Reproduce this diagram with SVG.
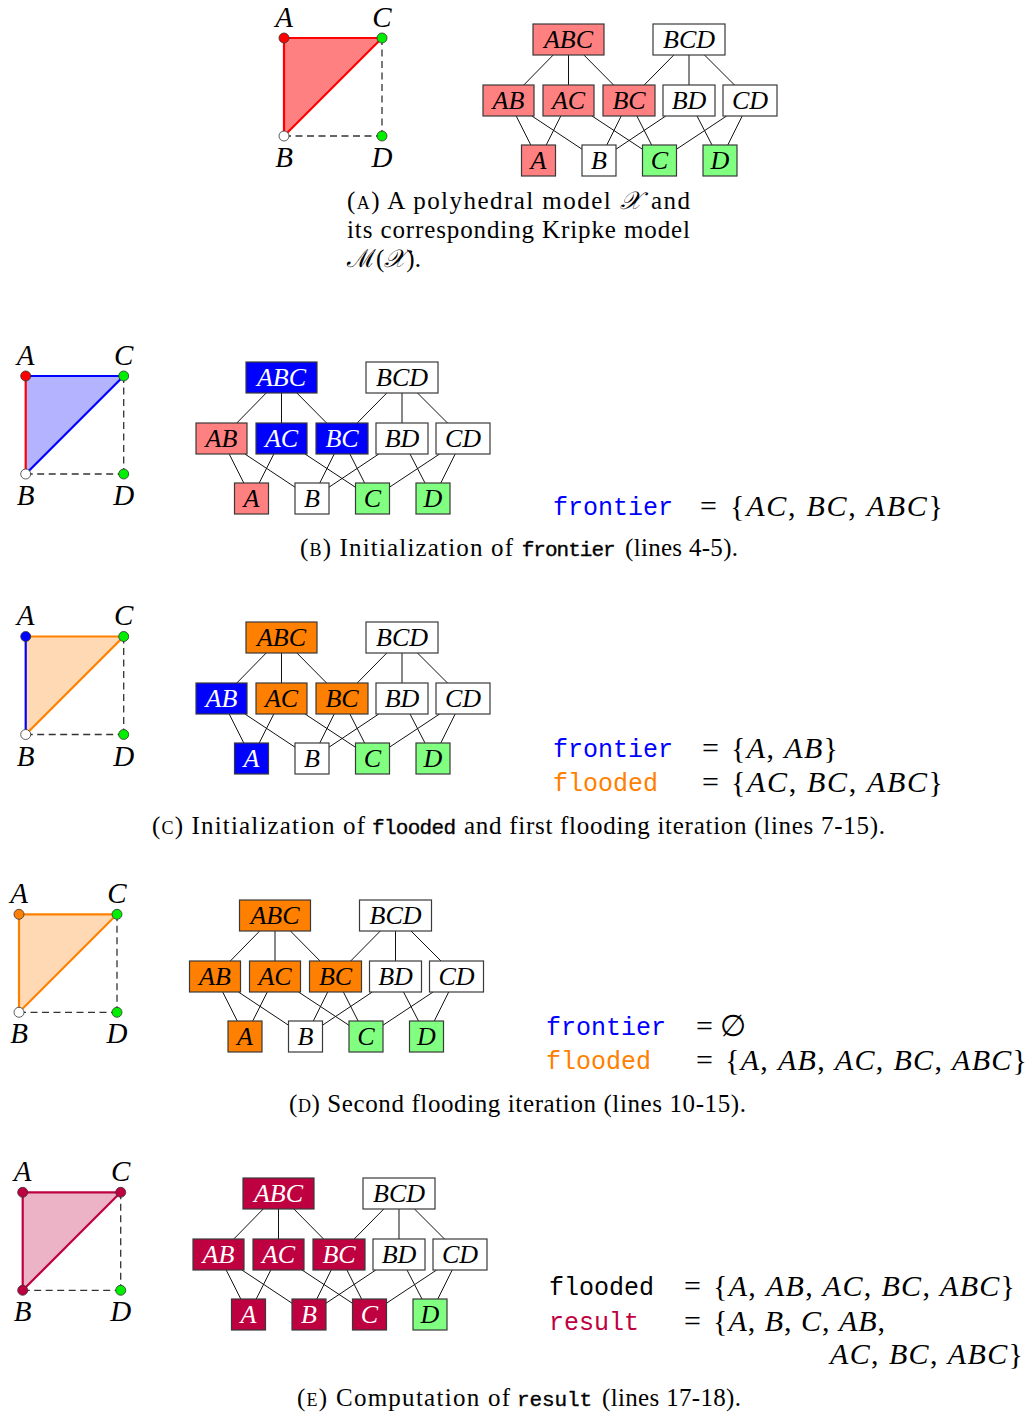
<svg xmlns="http://www.w3.org/2000/svg" width="1031" height="1414" viewBox="0 0 1031 1414">
<style>
.bx{stroke:#3a3a3a;stroke-width:1.2}
.w{fill:#fff}.r{fill:#ff8080}.g{fill:#80ff80}.b{fill:#0000ff}.o{fill:#ff8000}.p{fill:#bf0040}
.kl{font-family:"Liberation Serif",serif;font-style:italic;font-size:26px;text-anchor:middle;fill:#000}
.kw{fill:#fff}
.e line{stroke:#111;stroke-width:1}
.tl{font-family:"Liberation Serif",serif;font-style:italic;font-size:29px;text-anchor:middle;fill:#000}
.dash{stroke:#333;stroke-width:1.3;stroke-dasharray:7 4.5;fill:none}
.dot{stroke:#333;stroke-width:0.8}
.cap{font-family:"Liberation Serif",serif;font-size:25px;fill:#000}
.capm{font-family:"Liberation Mono",monospace;font-size:21px;fill:#000;stroke:#000;stroke-width:0.35}
.tt{font-family:"Liberation Mono",monospace;font-size:25px}
.mr{font-family:"Liberation Serif",serif;font-size:30px;fill:#000}
.mi{font-style:italic}
.sc{font-size:18px}
</style>

<!-- ===== Triangles ===== -->
<g id="tri-a">
  <polygon points="284,38 382,38 284,136" fill="#ff8080"/>
  <line x1="284" y1="38" x2="284" y2="136" stroke="#ff0000" stroke-width="2.2"/>
  <line x1="284" y1="38" x2="382" y2="38" stroke="#ff0000" stroke-width="2.2"/>
  <line x1="284" y1="136" x2="382" y2="38" stroke="#ff0000" stroke-width="2.2"/>
  <path class="dash" d="M382,38 V136 M284,136 H382"/>
  <g id="tri-a-A"><circle class="dot" cx="284" cy="38" r="5" fill="#ff0000"/><text class="tl" x="284" y="26.5">A</text></g>
  <g id="tri-a-C"><circle class="dot" cx="382" cy="38" r="5" fill="#00ee00"/><text class="tl" x="382" y="26.5">C</text></g>
  <g id="tri-a-B"><circle class="dot" cx="284" cy="136" r="5" fill="#fff"/><text class="tl" x="284" y="167">B</text></g>
  <g id="tri-a-D"><circle class="dot" cx="382" cy="136" r="5" fill="#00ee00"/><text class="tl" x="382" y="167">D</text></g>
</g>
<g id="tri-b" transform="translate(-258.3,338)">
  <polygon points="284,38 382,38 284,136" fill="#b3b3ff"/>
  <line x1="284" y1="38" x2="284" y2="136" stroke="#ff0000" stroke-width="2.2"/>
  <line x1="284" y1="38" x2="382" y2="38" stroke="#0000ff" stroke-width="2.2"/>
  <line x1="284" y1="136" x2="382" y2="38" stroke="#0000ff" stroke-width="2.2"/>
  <path class="dash" d="M382,38 V136 M284,136 H382"/>
  <g id="tri-b-A"><circle class="dot" cx="284" cy="38" r="5" fill="#ff0000"/><text class="tl" x="284" y="26.5">A</text></g>
  <g id="tri-b-C"><circle class="dot" cx="382" cy="38" r="5" fill="#00ee00"/><text class="tl" x="382" y="26.5">C</text></g>
  <g id="tri-b-B"><circle class="dot" cx="284" cy="136" r="5" fill="#fff"/><text class="tl" x="284" y="167">B</text></g>
  <g id="tri-b-D"><circle class="dot" cx="382" cy="136" r="5" fill="#00ee00"/><text class="tl" x="382" y="167">D</text></g>
</g>
<g id="tri-c" transform="translate(-258.3,598.5)">
  <polygon points="284,38 382,38 284,136" fill="#ffd9b3"/>
  <line x1="284" y1="38" x2="284" y2="136" stroke="#0000ff" stroke-width="2.2"/>
  <line x1="284" y1="38" x2="382" y2="38" stroke="#ff8000" stroke-width="2.2"/>
  <line x1="284" y1="136" x2="382" y2="38" stroke="#ff8000" stroke-width="2.2"/>
  <path class="dash" d="M382,38 V136 M284,136 H382"/>
  <g id="tri-c-A"><circle class="dot" cx="284" cy="38" r="5" fill="#0000ff"/><text class="tl" x="284" y="26.5">A</text></g>
  <g id="tri-c-C"><circle class="dot" cx="382" cy="38" r="5" fill="#00ee00"/><text class="tl" x="382" y="26.5">C</text></g>
  <g id="tri-c-B"><circle class="dot" cx="284" cy="136" r="5" fill="#fff"/><text class="tl" x="284" y="167">B</text></g>
  <g id="tri-c-D"><circle class="dot" cx="382" cy="136" r="5" fill="#00ee00"/><text class="tl" x="382" y="167">D</text></g>
</g>
<g id="tri-d" transform="translate(-265,876.3)">
  <polygon points="284,38 382,38 284,136" fill="#ffd9b3"/>
  <line x1="284" y1="38" x2="284" y2="136" stroke="#ff8000" stroke-width="2.2"/>
  <line x1="284" y1="38" x2="382" y2="38" stroke="#ff8000" stroke-width="2.2"/>
  <line x1="284" y1="136" x2="382" y2="38" stroke="#ff8000" stroke-width="2.2"/>
  <path class="dash" d="M382,38 V136 M284,136 H382"/>
  <g id="tri-d-A"><circle class="dot" cx="284" cy="38" r="5" fill="#ff8000"/><text class="tl" x="284" y="26.5">A</text></g>
  <g id="tri-d-C"><circle class="dot" cx="382" cy="38" r="5" fill="#00ee00"/><text class="tl" x="382" y="26.5">C</text></g>
  <g id="tri-d-B"><circle class="dot" cx="284" cy="136" r="5" fill="#fff"/><text class="tl" x="284" y="167">B</text></g>
  <g id="tri-d-D"><circle class="dot" cx="382" cy="136" r="5" fill="#00ee00"/><text class="tl" x="382" y="167">D</text></g>
</g>
<g id="tri-e" transform="translate(-261.3,1154.3)">
  <polygon points="284,38 382,38 284,136" fill="#ecb3c6"/>
  <line x1="284" y1="38" x2="284" y2="136" stroke="#bf0040" stroke-width="2.2"/>
  <line x1="284" y1="38" x2="382" y2="38" stroke="#bf0040" stroke-width="2.2"/>
  <line x1="284" y1="136" x2="382" y2="38" stroke="#bf0040" stroke-width="2.2"/>
  <path class="dash" d="M382,38 V136 M284,136 H382"/>
  <g id="tri-e-A"><circle class="dot" cx="284" cy="38" r="5" fill="#bf0040"/><text class="tl" x="284" y="26.5">A</text></g>
  <g id="tri-e-C"><circle class="dot" cx="382" cy="38" r="5" fill="#bf0040"/><text class="tl" x="382" y="26.5">C</text></g>
  <g id="tri-e-B"><circle class="dot" cx="284" cy="136" r="5" fill="#bf0040"/><text class="tl" x="284" y="167">B</text></g>
  <g id="tri-e-D"><circle class="dot" cx="382" cy="136" r="5" fill="#00ee00"/><text class="tl" x="382" y="167">D</text></g>
</g>

<!-- ===== Connectors ===== -->
<g id="connectors">
  <g class="e" id="edges-a">
    <line x1="553.2" y1="55" x2="523.8" y2="85"/><line x1="568.5" y1="55" x2="568.5" y2="85"/><line x1="583.9" y1="55" x2="613.6" y2="85"/>
    <line x1="673.8" y1="55" x2="644.2" y2="85"/><line x1="689" y1="55" x2="689" y2="85"/><line x1="704.5" y1="55" x2="734.5" y2="85"/>
    <line x1="516.2" y1="116" x2="530.8" y2="145"/><line x1="531.9" y1="116" x2="582" y2="149.2"/><line x1="560.8" y1="116" x2="546.2" y2="145"/>
    <line x1="592" y1="116" x2="642.5" y2="149.3"/><line x1="621.2" y1="116" x2="606.8" y2="145"/><line x1="636.9" y1="116" x2="651.6" y2="145"/>
    <line x1="665.8" y1="116" x2="616" y2="149.2"/><line x1="697" y1="116" x2="712" y2="145"/><line x1="726.6" y1="116" x2="676.5" y2="149.2"/>
    <line x1="742.2" y1="116" x2="727.8" y2="145"/>
  </g>
  <g class="e" id="edges-b" transform="translate(-287,338)">
    <line x1="553.2" y1="55" x2="523.8" y2="85"/><line x1="568.5" y1="55" x2="568.5" y2="85"/><line x1="583.9" y1="55" x2="613.6" y2="85"/>
    <line x1="673.8" y1="55" x2="644.2" y2="85"/><line x1="689" y1="55" x2="689" y2="85"/><line x1="704.5" y1="55" x2="734.5" y2="85"/>
    <line x1="516.2" y1="116" x2="530.8" y2="145"/><line x1="531.9" y1="116" x2="582" y2="149.2"/><line x1="560.8" y1="116" x2="546.2" y2="145"/>
    <line x1="592" y1="116" x2="642.5" y2="149.3"/><line x1="621.2" y1="116" x2="606.8" y2="145"/><line x1="636.9" y1="116" x2="651.6" y2="145"/>
    <line x1="665.8" y1="116" x2="616" y2="149.2"/><line x1="697" y1="116" x2="712" y2="145"/><line x1="726.6" y1="116" x2="676.5" y2="149.2"/>
    <line x1="742.2" y1="116" x2="727.8" y2="145"/>
  </g>
  <g class="e" id="edges-c" transform="translate(-287,598)">
    <line x1="553.2" y1="55" x2="523.8" y2="85"/><line x1="568.5" y1="55" x2="568.5" y2="85"/><line x1="583.9" y1="55" x2="613.6" y2="85"/>
    <line x1="673.8" y1="55" x2="644.2" y2="85"/><line x1="689" y1="55" x2="689" y2="85"/><line x1="704.5" y1="55" x2="734.5" y2="85"/>
    <line x1="516.2" y1="116" x2="530.8" y2="145"/><line x1="531.9" y1="116" x2="582" y2="149.2"/><line x1="560.8" y1="116" x2="546.2" y2="145"/>
    <line x1="592" y1="116" x2="642.5" y2="149.3"/><line x1="621.2" y1="116" x2="606.8" y2="145"/><line x1="636.9" y1="116" x2="651.6" y2="145"/>
    <line x1="665.8" y1="116" x2="616" y2="149.2"/><line x1="697" y1="116" x2="712" y2="145"/><line x1="726.6" y1="116" x2="676.5" y2="149.2"/>
    <line x1="742.2" y1="116" x2="727.8" y2="145"/>
  </g>
  <g class="e" id="edges-d" transform="translate(-293.5,876)">
    <line x1="553.2" y1="55" x2="523.8" y2="85"/><line x1="568.5" y1="55" x2="568.5" y2="85"/><line x1="583.9" y1="55" x2="613.6" y2="85"/>
    <line x1="673.8" y1="55" x2="644.2" y2="85"/><line x1="689" y1="55" x2="689" y2="85"/><line x1="704.5" y1="55" x2="734.5" y2="85"/>
    <line x1="516.2" y1="116" x2="530.8" y2="145"/><line x1="531.9" y1="116" x2="582" y2="149.2"/><line x1="560.8" y1="116" x2="546.2" y2="145"/>
    <line x1="592" y1="116" x2="642.5" y2="149.3"/><line x1="621.2" y1="116" x2="606.8" y2="145"/><line x1="636.9" y1="116" x2="651.6" y2="145"/>
    <line x1="665.8" y1="116" x2="616" y2="149.2"/><line x1="697" y1="116" x2="712" y2="145"/><line x1="726.6" y1="116" x2="676.5" y2="149.2"/>
    <line x1="742.2" y1="116" x2="727.8" y2="145"/>
  </g>
  <g class="e" id="edges-e" transform="translate(-290,1154)">
    <line x1="553.2" y1="55" x2="523.8" y2="85"/><line x1="568.5" y1="55" x2="568.5" y2="85"/><line x1="583.9" y1="55" x2="613.6" y2="85"/>
    <line x1="673.8" y1="55" x2="644.2" y2="85"/><line x1="689" y1="55" x2="689" y2="85"/><line x1="704.5" y1="55" x2="734.5" y2="85"/>
    <line x1="516.2" y1="116" x2="530.8" y2="145"/><line x1="531.9" y1="116" x2="582" y2="149.2"/><line x1="560.8" y1="116" x2="546.2" y2="145"/>
    <line x1="592" y1="116" x2="642.5" y2="149.3"/><line x1="621.2" y1="116" x2="606.8" y2="145"/><line x1="636.9" y1="116" x2="651.6" y2="145"/>
    <line x1="665.8" y1="116" x2="616" y2="149.2"/><line x1="697" y1="116" x2="712" y2="145"/><line x1="726.6" y1="116" x2="676.5" y2="149.2"/>
    <line x1="742.2" y1="116" x2="727.8" y2="145"/>
  </g>
</g>

<!-- ===== Kripke nodes ===== -->
<g id="kripke-a">
  <g id="a-ABC"><rect class="bx r" x="533" y="24" width="71" height="31"/><text class="kl" x="568.5" y="48.1">ABC</text></g>
  <g id="a-BCD"><rect class="bx w" x="653" y="24" width="72" height="31"/><text class="kl" x="689" y="48.1">BCD</text></g>
  <g id="a-AB"><rect class="bx r" x="483" y="85" width="51" height="31"/><text class="kl" x="508.5" y="109.1">AB</text></g>
  <g id="a-AC"><rect class="bx r" x="543" y="85" width="51" height="31"/><text class="kl" x="568.5" y="109.1">AC</text></g>
  <g id="a-BC"><rect class="bx r" x="603" y="85" width="52" height="31"/><text class="kl" x="629" y="109.1">BC</text></g>
  <g id="a-BD"><rect class="bx w" x="663" y="85" width="52" height="31"/><text class="kl" x="689" y="109.1">BD</text></g>
  <g id="a-CD"><rect class="bx w" x="723" y="85" width="54" height="31"/><text class="kl" x="750" y="109.1">CD</text></g>
  <g id="a-A"><rect class="bx r" x="521.5" y="145" width="34" height="31"/><text class="kl" x="538.5" y="169.1">A</text></g>
  <g id="a-B"><rect class="bx w" x="582" y="145" width="34" height="31"/><text class="kl" x="599" y="169.1">B</text></g>
  <g id="a-C"><rect class="bx g" x="642.5" y="145" width="34" height="31"/><text class="kl" x="659.5" y="169.1">C</text></g>
  <g id="a-D"><rect class="bx g" x="703" y="145" width="34" height="31"/><text class="kl" x="720" y="169.1">D</text></g>
</g>
<g id="kripke-b" transform="translate(-287,338)">
  <g id="b-ABC"><rect class="bx b" x="533" y="24" width="71" height="31"/><text class="kl kw" x="568.5" y="48.1">ABC</text></g>
  <g id="b-BCD"><rect class="bx w" x="653" y="24" width="72" height="31"/><text class="kl" x="689" y="48.1">BCD</text></g>
  <g id="b-AB"><rect class="bx r" x="483" y="85" width="51" height="31"/><text class="kl" x="508.5" y="109.1">AB</text></g>
  <g id="b-AC"><rect class="bx b" x="543" y="85" width="51" height="31"/><text class="kl kw" x="568.5" y="109.1">AC</text></g>
  <g id="b-BC"><rect class="bx b" x="603" y="85" width="52" height="31"/><text class="kl kw" x="629" y="109.1">BC</text></g>
  <g id="b-BD"><rect class="bx w" x="663" y="85" width="52" height="31"/><text class="kl" x="689" y="109.1">BD</text></g>
  <g id="b-CD"><rect class="bx w" x="723" y="85" width="54" height="31"/><text class="kl" x="750" y="109.1">CD</text></g>
  <g id="b-A"><rect class="bx r" x="521.5" y="145" width="34" height="31"/><text class="kl" x="538.5" y="169.1">A</text></g>
  <g id="b-B"><rect class="bx w" x="582" y="145" width="34" height="31"/><text class="kl" x="599" y="169.1">B</text></g>
  <g id="b-C"><rect class="bx g" x="642.5" y="145" width="34" height="31"/><text class="kl" x="659.5" y="169.1">C</text></g>
  <g id="b-D"><rect class="bx g" x="703" y="145" width="34" height="31"/><text class="kl" x="720" y="169.1">D</text></g>
</g>
<g id="kripke-c" transform="translate(-287,598)">
  <g id="c-ABC"><rect class="bx o" x="533" y="24" width="71" height="31"/><text class="kl" x="568.5" y="48.1">ABC</text></g>
  <g id="c-BCD"><rect class="bx w" x="653" y="24" width="72" height="31"/><text class="kl" x="689" y="48.1">BCD</text></g>
  <g id="c-AB"><rect class="bx b" x="483" y="85" width="51" height="31"/><text class="kl kw" x="508.5" y="109.1">AB</text></g>
  <g id="c-AC"><rect class="bx o" x="543" y="85" width="51" height="31"/><text class="kl" x="568.5" y="109.1">AC</text></g>
  <g id="c-BC"><rect class="bx o" x="603" y="85" width="52" height="31"/><text class="kl" x="629" y="109.1">BC</text></g>
  <g id="c-BD"><rect class="bx w" x="663" y="85" width="52" height="31"/><text class="kl" x="689" y="109.1">BD</text></g>
  <g id="c-CD"><rect class="bx w" x="723" y="85" width="54" height="31"/><text class="kl" x="750" y="109.1">CD</text></g>
  <g id="c-A"><rect class="bx b" x="521.5" y="145" width="34" height="31"/><text class="kl kw" x="538.5" y="169.1">A</text></g>
  <g id="c-B"><rect class="bx w" x="582" y="145" width="34" height="31"/><text class="kl" x="599" y="169.1">B</text></g>
  <g id="c-C"><rect class="bx g" x="642.5" y="145" width="34" height="31"/><text class="kl" x="659.5" y="169.1">C</text></g>
  <g id="c-D"><rect class="bx g" x="703" y="145" width="34" height="31"/><text class="kl" x="720" y="169.1">D</text></g>
</g>
<g id="kripke-d" transform="translate(-293.5,876)">
  <g id="d-ABC"><rect class="bx o" x="533" y="24" width="71" height="31"/><text class="kl" x="568.5" y="48.1">ABC</text></g>
  <g id="d-BCD"><rect class="bx w" x="653" y="24" width="72" height="31"/><text class="kl" x="689" y="48.1">BCD</text></g>
  <g id="d-AB"><rect class="bx o" x="483" y="85" width="51" height="31"/><text class="kl" x="508.5" y="109.1">AB</text></g>
  <g id="d-AC"><rect class="bx o" x="543" y="85" width="51" height="31"/><text class="kl" x="568.5" y="109.1">AC</text></g>
  <g id="d-BC"><rect class="bx o" x="603" y="85" width="52" height="31"/><text class="kl" x="629" y="109.1">BC</text></g>
  <g id="d-BD"><rect class="bx w" x="663" y="85" width="52" height="31"/><text class="kl" x="689" y="109.1">BD</text></g>
  <g id="d-CD"><rect class="bx w" x="723" y="85" width="54" height="31"/><text class="kl" x="750" y="109.1">CD</text></g>
  <g id="d-A"><rect class="bx o" x="521.5" y="145" width="34" height="31"/><text class="kl" x="538.5" y="169.1">A</text></g>
  <g id="d-B"><rect class="bx w" x="582" y="145" width="34" height="31"/><text class="kl" x="599" y="169.1">B</text></g>
  <g id="d-C"><rect class="bx g" x="642.5" y="145" width="34" height="31"/><text class="kl" x="659.5" y="169.1">C</text></g>
  <g id="d-D"><rect class="bx g" x="703" y="145" width="34" height="31"/><text class="kl" x="720" y="169.1">D</text></g>
</g>
<g id="kripke-e" transform="translate(-290,1154)">
  <g id="e-ABC"><rect class="bx p" x="533" y="24" width="71" height="31"/><text class="kl kw" x="568.5" y="48.1">ABC</text></g>
  <g id="e-BCD"><rect class="bx w" x="653" y="24" width="72" height="31"/><text class="kl" x="689" y="48.1">BCD</text></g>
  <g id="e-AB"><rect class="bx p" x="483" y="85" width="51" height="31"/><text class="kl kw" x="508.5" y="109.1">AB</text></g>
  <g id="e-AC"><rect class="bx p" x="543" y="85" width="51" height="31"/><text class="kl kw" x="568.5" y="109.1">AC</text></g>
  <g id="e-BC"><rect class="bx p" x="603" y="85" width="52" height="31"/><text class="kl kw" x="629" y="109.1">BC</text></g>
  <g id="e-BD"><rect class="bx w" x="663" y="85" width="52" height="31"/><text class="kl" x="689" y="109.1">BD</text></g>
  <g id="e-CD"><rect class="bx w" x="723" y="85" width="54" height="31"/><text class="kl" x="750" y="109.1">CD</text></g>
  <g id="e-A"><rect class="bx p" x="521.5" y="145" width="34" height="31"/><text class="kl kw" x="538.5" y="169.1">A</text></g>
  <g id="e-B"><rect class="bx p" x="582" y="145" width="34" height="31"/><text class="kl kw" x="599" y="169.1">B</text></g>
  <g id="e-C"><rect class="bx p" x="642.5" y="145" width="34" height="31"/><text class="kl kw" x="659.5" y="169.1">C</text></g>
  <g id="e-D"><rect class="bx g" x="703" y="145" width="34" height="31"/><text class="kl" x="720" y="169.1">D</text></g>
</g>

<!-- ===== Set equations ===== -->
<g id="eq-b">
  <text class="tt" x="553" y="515" fill="#0000ff" textLength="120">frontier</text>
  <text class="mr" x="700" y="516">=</text>
  <text class="mr" x="730" y="516" textLength="213">{<tspan class="mi">AC</tspan>, <tspan class="mi">BC</tspan>, <tspan class="mi">ABC</tspan>}</text>
</g>
<g id="eq-c">
  <text class="tt" x="553" y="757" fill="#0000ff" textLength="120">frontier</text>
  <text class="mr" x="702" y="758">=</text>
  <text class="mr" x="731" y="758" textLength="107">{<tspan class="mi">A</tspan>, <tspan class="mi">AB</tspan>}</text>
  <text class="tt" x="553" y="791" fill="#ff8000" textLength="105">flooded</text>
  <text class="mr" x="702" y="792">=</text>
  <text class="mr" x="731" y="792" textLength="212">{<tspan class="mi">AC</tspan>, <tspan class="mi">BC</tspan>, <tspan class="mi">ABC</tspan>}</text>
</g>
<g id="eq-d">
  <text class="tt" x="546" y="1035" fill="#0000ff" textLength="120">frontier</text>
  <text class="mr" x="696" y="1036">= ∅</text>
  <text class="tt" x="546" y="1069" fill="#ff8000" textLength="105">flooded</text>
  <text class="mr" x="696" y="1070">=</text>
  <text class="mr" x="725" y="1070" textLength="302">{<tspan class="mi">A</tspan>, <tspan class="mi">AB</tspan>, <tspan class="mi">AC</tspan>, <tspan class="mi">BC</tspan>, <tspan class="mi">ABC</tspan>}</text>
</g>
<g id="eq-e">
  <text class="tt" x="549" y="1295" fill="#000" textLength="105">flooded</text>
  <text class="mr" x="684" y="1296">=</text>
  <text class="mr" x="713" y="1296" textLength="302">{<tspan class="mi">A</tspan>, <tspan class="mi">AB</tspan>, <tspan class="mi">AC</tspan>, <tspan class="mi">BC</tspan>, <tspan class="mi">ABC</tspan>}</text>
  <text class="tt" x="549" y="1330" fill="#bf0040" textLength="90">result</text>
  <text class="mr" x="684" y="1331">=</text>
  <text class="mr" x="713" y="1331" textLength="172">{<tspan class="mi">A</tspan>, <tspan class="mi">B</tspan>, <tspan class="mi">C</tspan>, <tspan class="mi">AB</tspan>,</text>
  <text class="mr" x="830" y="1364" textLength="193"><tspan class="mi">AC</tspan>, <tspan class="mi">BC</tspan>, <tspan class="mi">ABC</tspan>}</text>
</g>

<!-- ===== Captions ===== -->
<g id="captions">
  <text class="cap" x="347" y="209" textLength="343">(<tspan class="sc">A</tspan>) A polyhedral model <tspan class="mi">𝒳</tspan> and</text>
  <text class="cap" x="347" y="238" textLength="343">its corresponding Kripke model</text>
  <text class="cap" x="347" y="267">ℳ(<tspan class="mi">𝒳</tspan>).</text>

  <text class="cap" x="300" y="556" textLength="213">(<tspan class="sc">B</tspan>) Initialization of</text>
  <text class="capm" x="521.7" y="556" textLength="94">frontier</text>
  <text class="cap" x="625" y="556" textLength="113">(lines 4-5).</text>

  <text class="cap" x="152" y="834" textLength="213">(<tspan class="sc">C</tspan>) Initialization of</text>
  <text class="capm" x="372" y="834" textLength="84">flooded</text>
  <text class="cap" x="464" y="834" textLength="421">and first flooding iteration (lines 7-15).</text>

  <text class="cap" x="289" y="1112" textLength="457">(<tspan class="sc">D</tspan>) Second flooding iteration (lines 10-15).</text>

  <text class="cap" x="297" y="1406" textLength="213">(<tspan class="sc">E</tspan>) Computation of</text>
  <text class="capm" x="517" y="1406" textLength="75">result</text>
  <text class="cap" x="602" y="1406" textLength="139">(lines 17-18).</text>
</g>
</svg>
